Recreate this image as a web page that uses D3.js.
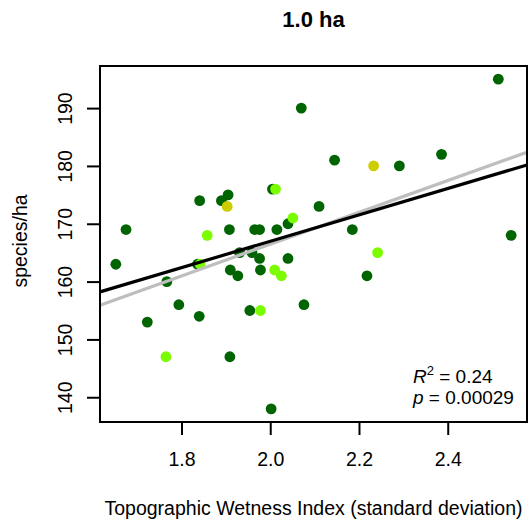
<!DOCTYPE html>
<html>
<head>
<meta charset="utf-8">
<script src="https://cdn.jsdelivr.net/npm/d3@7"></script>
<style>
  body { margin: 0; background: #fff; }
  svg { display: block; font-family: "Liberation Sans", Arial, sans-serif; }
  .axis text { font-size: 19.5px; fill: #000; }
  .axis line { stroke: #000; stroke-width: 2; }
  .axis path { display: none; }
</style>
</head>
<body>
<svg id="chart"></svg>
<script>
// topographic wetness index (sd) and species richness per 1.0 ha plot
const twi = [
  1.652, 1.675, 1.723, 1.767, 1.794, 1.836, 1.840, 1.841, 1.890, 1.905,
  1.908, 1.965, 1.976, 2.015, 2.040, 2.005, 2.070, 2.110, 2.145, 2.291,
  2.386, 2.514, 2.543, 2.185, 2.218, 2.076, 1.931, 1.959, 1.976, 2.040,
  1.910, 1.927, 1.978, 1.954, 1.909, 2.002,
  1.765, 1.842, 1.858, 2.012, 2.051, 2.010, 2.025, 1.978, 2.242,
  1.903, 2.233
];
const richness = [
  163, 169, 153, 160, 156, 163, 154, 174, 174, 175,
  169, 169, 169, 169, 170, 176, 190, 173, 181, 180,
  182, 195, 168, 169, 161, 156, 165, 165, 164, 164,
  162, 161, 162, 155, 147, 138,
  147, 163, 168, 176, 171, 162, 161, 155, 165,
  173, 180
];
const group = [
  ...Array(36).fill('a'),
  ...Array(9).fill('b'),
  ...Array(2).fill('c')
];
const groupColors = {a: '#006400', b: '#7CFC00', c: '#CDCD00'};

const xTicks = [1.8, 2.0, 2.2, 2.4];
const yTicks = [140, 150, 160, 170, 180, 190];

// fitted lines: [intercept, slope]
const fitBlack = [121.37, 22.8];
const fitGrey = [111.47, 27.5];

const titleText = '1.0 ha';
const xLabel = 'Topographic Wetness Index (standard deviation)';
const yLabel = 'species/ha';

class Scatterplot {

  constructor(_config, _data) {
    this.config = {
      parentElement: _config.parentElement,
      containerWidth: _config.containerWidth || 530,
      containerHeight: _config.containerHeight || 525,
      margin: _config.margin || {top: 66, right: 3, bottom: 103, left: 100}
    }
    this.data = _data;
    this.initVis();
  }

  initVis() {
    let vis = this;

    vis.width = vis.config.containerWidth - vis.config.margin.left - vis.config.margin.right;
    vis.height = vis.config.containerHeight - vis.config.margin.top - vis.config.margin.bottom;

    // R style: pad the data range by 4% on each side
    const xr = d3.extent(vis.data, d => d.x);
    const yr = d3.extent(vis.data, d => d.y);
    const xp = (xr[1] - xr[0]) * 0.04;
    const yp = (yr[1] - yr[0]) * 0.04;

    vis.xScale = d3.scaleLinear()
        .domain([xr[0] - xp, xr[1] + xp])
        .range([0, vis.width]);

    vis.yScale = d3.scaleLinear()
        .domain([yr[0] - yp, yr[1] + yp])
        .range([vis.height, 0]);

    vis.xAxis = d3.axisBottom(vis.xScale)
        .tickValues(xTicks)
        .tickFormat(d3.format('.1f'))
        .tickSizeInner(13)
        .tickSizeOuter(0)
        .tickPadding(17);

    vis.yAxis = d3.axisLeft(vis.yScale)
        .tickValues(yTicks)
        .tickSizeInner(13)
        .tickSizeOuter(0);

    vis.svg = d3.select(vis.config.parentElement)
        .attr('width', vis.config.containerWidth)
        .attr('height', vis.config.containerHeight);

    vis.chart = vis.svg.append('g')
        .attr('transform', `translate(${vis.config.margin.left},${vis.config.margin.top})`);

    vis.xAxisG = vis.chart.append('g')
        .attr('class', 'axis x-axis')
        .attr('transform', `translate(0,${vis.height})`);

    vis.yAxisG = vis.chart.append('g')
        .attr('class', 'axis y-axis');

    vis.marks = vis.chart.append('g');

    vis.chart.append('rect')
        .attr('width', vis.width)
        .attr('height', vis.height)
        .attr('fill', 'none')
        .attr('stroke', '#000')
        .attr('stroke-width', 2);

    vis.svg.append('text')
        .attr('x', vis.config.margin.left + vis.width / 2)
        .attr('y', 27)
        .attr('text-anchor', 'middle')
        .attr('font-weight', 'bold')
        .attr('font-size', '22px')
        .text(titleText);

    vis.svg.append('text')
        .attr('x', vis.config.margin.left + vis.width / 2)
        .attr('y', vis.config.containerHeight - 10)
        .attr('text-anchor', 'middle')
        .attr('font-size', '19.5px')
        .text(xLabel);

    vis.svg.append('text')
        .attr('transform', `translate(27,${vis.config.margin.top + vis.height / 2 - 3}) rotate(-90)`)
        .attr('text-anchor', 'middle')
        .attr('font-size', '19.5px')
        .text(yLabel);

    vis.updateVis();
  }

  renderVis() {
    let vis = this;
    const [x0, x1] = vis.xScale.domain();

    // points, drawn group by group so the lighter ones sit on top
    vis.marks.selectAll('.dot')
        .data(vis.data)
      .join('circle')
        .attr('class', 'dot')
        .attr('cx', d => vis.xScale(d.x))
        .attr('cy', d => vis.yScale(d.y))
        .attr('r', 5.4)
        .attr('fill', d => groupColors[d.g]);

    vis.marks.selectAll('.fit')
        .data([{fit: fitGrey, color: '#BEBEBE'}, {fit: fitBlack, color: '#000'}])
      .join('line')
        .attr('class', 'fit')
        .attr('x1', vis.xScale(x0))
        .attr('x2', vis.xScale(x1))
        .attr('y1', d => vis.yScale(d.fit[0] + d.fit[1] * x0))
        .attr('y2', d => vis.yScale(d.fit[0] + d.fit[1] * x1))
        .attr('stroke', d => d.color)
        .attr('stroke-width', 3.2);

    // stats in the bottom right corner
    const stats = vis.chart.append('g')
        .attr('font-size', '19px')
        .attr('transform', `translate(${vis.width - 114},0)`);

    const r2 = stats.append('text').attr('y', vis.height - 39);
    r2.append('tspan').attr('font-style', 'italic').text('R');
    r2.append('tspan').attr('font-size', '13px').attr('dy', -8).text('2');
    r2.append('tspan').attr('dy', 8).text(' = 0.24');

    const p = stats.append('text').attr('y', vis.height - 18);
    p.append('tspan').attr('font-style', 'italic').text('p');
    p.append('tspan').text(' = 0.00029');

    vis.xAxisG.call(vis.xAxis);
    vis.yAxisG.call(vis.yAxis);

    vis.yAxisG.selectAll('text')
        .attr('x', 0)
        .attr('dy', 0)
        .attr('text-anchor', 'middle')
        .attr('transform', 'translate(-28,0) rotate(-90)');
  }

  updateVis() {
    let vis = this;
    vis.renderVis();
  }
}

const data = twi.map((x, i) => ({x: x, y: richness[i], g: group[i]}));
new Scatterplot({parentElement: '#chart'}, data);
</script>
</body>
</html>
